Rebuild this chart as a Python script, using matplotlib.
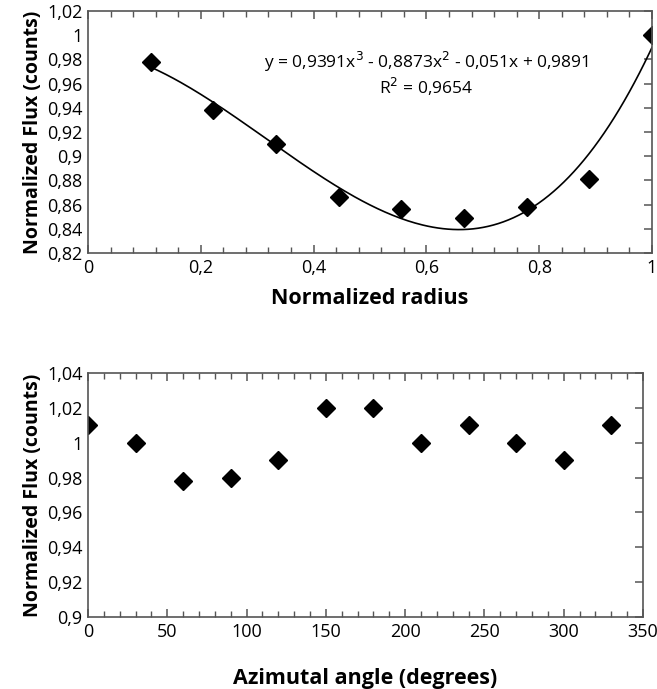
import numpy as np
import matplotlib
matplotlib.use("Agg")
import matplotlib.pyplot as plt
from matplotlib.ticker import MultipleLocator, FuncFormatter

plt.rcParams['font.family'] = ['Open Sans', 'DejaVu Sans']

# radial profile
radius = [1/9, 2/9, 3/9, 4/9, 5/9, 6/9, 7/9, 8/9, 1.0]
flux_r = [0.978, 0.938, 0.910, 0.866, 0.856, 0.849, 0.858, 0.881, 1.0]

# azimuthal profile
angle = [0, 30, 60, 90, 120, 150, 180, 210, 240, 270, 300, 330]
flux_a = [1.01, 1.0, 0.978, 0.98, 0.99, 1.02, 1.02, 1.0, 1.01, 1.0, 0.99, 1.01]

eq_text = "y = 0,9391x$^3$ - 0,8873x$^2$ - 0,051x + 0,9891"
r2_text = "R$^2$ = 0,9654"


def comma(v, pos):
    s = "%g" % round(v, 4)
    return s.replace(".", ",")


def style(ax):
    for s in ax.spines.values():
        s.set_color("#555555")
        s.set_linewidth(1.2)
    ax.tick_params(which="both", direction="in", top=True, right=True, left=False,
                   color="#555555", labelsize=13)
    ax.tick_params(which="major", length=6, width=1.1, pad=4)
    ax.tick_params(which="minor", length=4, width=1.0)
    ax.tick_params(axis="y", which="minor", right=False)
    ax.xaxis.set_major_formatter(FuncFormatter(comma))
    ax.yaxis.set_major_formatter(FuncFormatter(comma))


fig = plt.figure(figsize=(6.57, 6.89), dpi=100)
W, H = 657, 689

ax1 = fig.add_axes([88/W, 1 - 253/H, (652-88)/W, (253-11)/H])
coef = np.polyfit(radius, flux_r, 3)
xs = np.linspace(radius[0], radius[-1], 200)
ax1.plot(xs, np.polyval(coef, xs), color="black", lw=1.2)
ax1.plot(radius, flux_r, "D", color="black", ms=9)
ax1.set_xlim(0, 1)
ax1.set_ylim(0.82, 1.02)
ax1.xaxis.set_major_locator(MultipleLocator(0.2))
ax1.xaxis.set_minor_locator(MultipleLocator(0.04))
ax1.yaxis.set_major_locator(MultipleLocator(0.02))
style(ax1)
ax1.text(0.6, 0.978, eq_text, ha="center", va="center", fontsize=12.5)
ax1.text(0.6, 0.957, r2_text, ha="center", va="center", fontsize=12.5)
ax1.set_xlabel("Normalized radius", fontsize=15.5, fontweight="bold", labelpad=8)
ax1.set_ylabel("Normalized Flux (counts)", fontsize=14, fontweight="bold", labelpad=3)

ax2 = fig.add_axes([88/W, 1 - 617/H, (643-88)/W, (617-373)/H])
ax2.plot(angle, flux_a, "D", color="black", ms=9)
ax2.set_xlim(0, 350)
ax2.set_ylim(0.9, 1.04)
ax2.xaxis.set_major_locator(MultipleLocator(50))
ax2.xaxis.set_minor_locator(MultipleLocator(10))
ax2.yaxis.set_major_locator(MultipleLocator(0.02))
style(ax2)
ax2.set_xlabel("Azimutal angle (degrees)", fontsize=15.5, fontweight="bold", labelpad=20)
ax2.set_ylabel("Normalized Flux (counts)", fontsize=14, fontweight="bold", labelpad=3)

fig.savefig("out.png", dpi=100)
